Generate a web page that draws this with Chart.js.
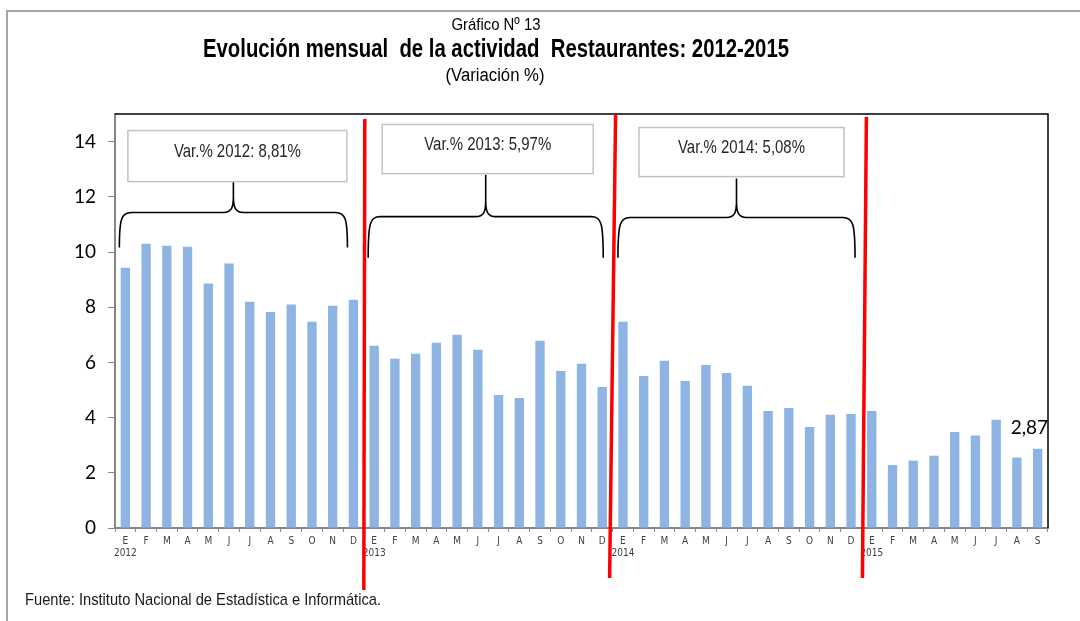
<!DOCTYPE html>
<html>
<head>
<meta charset="utf-8">
<script src="https://cdn.jsdelivr.net/npm/chart.js@4/dist/chart.umd.min.js"></script>
<style>
  html, body { margin: 0; padding: 0; background: #fff; }
  #wrap { width: 1080px; height: 621px; }
</style>
</head>
<body>
<div id="wrap"><canvas id="chart" width="1080" height="621"></canvas></div>
<script>
const monthLetters = ['E', 'F', 'M', 'A', 'M', 'J', 'J', 'A', 'S', 'O', 'N', 'D'];
const years = ['2012', '2013', '2014', '2015'];

const values2012 = [9.43, 10.30, 10.23, 10.19, 8.86, 9.58, 8.20, 7.83, 8.10, 7.47, 8.05, 8.27];
const values2013 = [6.60, 6.13, 6.31, 6.71, 7.00, 6.46, 4.82, 4.71, 6.78, 5.69, 5.95, 5.11];
const values2014 = [7.47, 5.51, 6.06, 5.33, 5.91, 5.62, 5.15, 4.24, 4.35, 3.66, 4.10, 4.13];
const values2015 = [4.24, 2.28, 2.44, 2.62, 3.48, 3.35, 3.92, 2.55, 2.87];

const yearNotes = ['Var.% 2012: 8,81%', 'Var.% 2013: 5,97%', 'Var.% 2014: 5,08%'];
const lastValueLabel = '2,87';

const yTicks = [0, 2, 4, 6, 8, 10, 12, 14];

const allYears = [values2012, values2013, values2014, values2015];
const labels = [];
const values = [];
allYears.forEach((vals, yi) => {
    vals.forEach((v, mi) => {
        labels.push(mi === 0 ? [monthLetters[mi], years[yi]] : monthLetters[mi]);
        values.push(v);
    });
});

const sans = "'Liberation Sans', Arial, sans-serif";

// brace + box look for each finished year (y in data units)
const braceStyle = [
    { dl: -6, dr: -6, bottom: 10.16, mid: 11.43, top: 12.74, boxW: 219, boxTop: 14.40, boxBottom: 12.55, dx: 4 },
    { dl: -6, dr: 1, bottom: 9.79, mid: 11.28, top: 12.80, boxW: 211, boxTop: 14.62, boxBottom: 12.84, dx: 2 },
    { dl: -5, dr: 4, bottom: 9.79, mid: 11.25, top: 12.66, boxW: 205, boxTop: 14.51, boxBottom: 12.73, dx: 5 }
];
// red separators: offsets of top/bottom ends from the boundary between years
const separatorStyle = [
    { top: 119, bottom: 590, dTop: 1, dBottom: 0 },
    { top: 114, bottom: 578, dTop: 3, dBottom: -3 },
    { top: 117, bottom: 578, dTop: 5, dBottom: 1 }
];

// draws text squeezed horizontally to a given width (narrow font look)
function fitText(ctx, text, x, y, font, width, align) {
    ctx.save();
    ctx.font = font;
    const w = ctx.measureText(text).width;
    const k = width / w;
    ctx.textAlign = 'left';
    ctx.textBaseline = 'middle';
    let left = x;
    if (align === 'center') left = x - width / 2;
    ctx.translate(left, y);
    ctx.scale(k, 1);
    ctx.fillText(text, 0, 0);
    ctx.restore();
}

const decorations = {
    id: 'decorations',
    beforeDraw(chart) {
        const ctx = chart.ctx;
        ctx.save();
        ctx.fillStyle = '#fff';
        ctx.fillRect(0, 0, chart.width, chart.height);

        // outer frame
        ctx.strokeStyle = '#a6a6a6';
        ctx.lineWidth = 2;
        ctx.beginPath();
        ctx.moveTo(7, chart.height + 2);
        ctx.lineTo(7, 11);
        ctx.lineTo(chart.width + 2, 11);
        ctx.stroke();

        ctx.fillStyle = '#000';
        fitText(ctx, 'Gráfico Nº 13', 496, 25, '17px ' + sans, 89, 'center');
        fitText(ctx, 'Evolución mensual  de la actividad  Restaurantes: 2012-2015', 496, 50, 'bold 25px ' + sans, 586, 'center');
        fitText(ctx, '(Variación %)', 495, 76, '18px ' + sans, 99, 'center');

        ctx.fillStyle = '#1a1a1a';
        fitText(ctx, 'Fuente: Instituto Nacional de Estadística e Informática.', 25, 600, '17px ' + sans, 356, 'left');
        ctx.restore();
    },
    afterDraw(chart) {
        const ctx = chart.ctx;
        const area = chart.chartArea;
        const x = chart.scales.x;
        const y = chart.scales.y;
        ctx.save();

        // plot area frame (top and right)
        ctx.strokeStyle = '#000';
        ctx.lineWidth = 1.5;
        ctx.beginPath();
        ctx.moveTo(area.left, area.top);
        ctx.lineTo(area.right, area.top);
        ctx.lineTo(area.right, area.bottom);
        ctx.stroke();

        // braces and boxes
        let start = 0;
        braceStyle.forEach((s, i) => {
            const n = allYears[i].length;
            const L = x.getPixelForValue(start) + s.dl;
            const R = x.getPixelForValue(start + n - 1) + s.dr;
            const M = (L + R) / 2;
            const yb = y.getPixelForValue(s.bottom);
            const yh = y.getPixelForValue(s.mid);
            const yt = y.getPixelForValue(s.top);

            ctx.strokeStyle = '#000';
            ctx.lineWidth = 1.6;
            ctx.beginPath();
            ctx.moveTo(L, yb);
            ctx.bezierCurveTo(L, yh + 6, L + 2, yh, L + 12, yh);
            ctx.lineTo(M - 10, yh);
            ctx.bezierCurveTo(M - 2, yh, M, yh - 5, M, yh - 16);
            ctx.lineTo(M, yt);
            ctx.moveTo(M, yh - 16);
            ctx.bezierCurveTo(M, yh - 5, M + 2, yh, M + 10, yh);
            ctx.lineTo(R - 12, yh);
            ctx.bezierCurveTo(R - 2, yh, R, yh + 6, R, yb);
            ctx.stroke();

            const bx = M + s.dx - s.boxW / 2;
            const by = y.getPixelForValue(s.boxTop);
            const bh = y.getPixelForValue(s.boxBottom) - by;
            ctx.fillStyle = '#fff';
            ctx.fillRect(bx, by, s.boxW, bh);
            ctx.strokeStyle = '#c3c3c3';
            ctx.lineWidth = 1.5;
            ctx.strokeRect(bx, by, s.boxW, bh);
            ctx.fillStyle = '#262626';
            fitText(ctx, yearNotes[i], M + s.dx, by + bh * 0.42, '19px ' + sans, 127, 'center');

            start += n;
        });

        // red year separators
        start = 0;
        separatorStyle.forEach((s, i) => {
            start += allYears[i].length;
            const bx = (x.getPixelForValue(start - 1) + x.getPixelForValue(start)) / 2;
            ctx.strokeStyle = '#ff0000';
            ctx.lineWidth = 3.5;
            ctx.beginPath();
            ctx.moveTo(bx + s.dTop, s.top);
            ctx.lineTo(bx + s.dBottom, s.bottom);
            ctx.stroke();
        });

        // last value label
        const meta = chart.getDatasetMeta(0);
        const last = meta.data[meta.data.length - 1];
        ctx.fillStyle = '#000';
        ctx.font = '19px Lato, sans-serif';
        ctx.textAlign = 'right';
        ctx.textBaseline = 'middle';
        ctx.fillText(lastValueLabel, area.right, last.y - 21);
        ctx.restore();
    }
};

new Chart(document.getElementById('chart'), {
    type: 'bar',
    data: {
        labels: labels,
        datasets: [{
            data: values,
            backgroundColor: 'rgb(141,180,226)',
            borderWidth: 0,
            categoryPercentage: 1,
            barPercentage: 0.45
        }]
    },
    options: {
        responsive: false,
        animation: false,
        layout: {
            padding: { top: 114, right: 32, left: 0, bottom: 0 }
        },
        plugins: {
            legend: { display: false },
            tooltip: { enabled: false }
        },
        scales: {
            x: {
                offset: true,
                afterFit: (scale) => { scale.height = 93; },
                border: { color: '#868686', width: 2 },
                grid: {
                    offset: true,
                    drawOnChartArea: false,
                    tickLength: 4,
                    color: '#868686'
                },
                ticks: {
                    autoSkip: false,
                    maxRotation: 0,
                    padding: 3,
                    color: '#404040',
                    font: { family: "'DejaVu Sans Condensed', 'Liberation Sans', sans-serif", size: 10, lineHeight: 1.2 }
                }
            },
            y: {
                min: 0,
                max: 15,
                afterFit: (scale) => { scale.width = 115; },
                afterBuildTicks: (scale) => { scale.ticks = yTicks.map(v => ({ value: v })); },
                border: { color: '#868686', width: 2 },
                grid: {
                    drawOnChartArea: false,
                    tickLength: 7,
                    color: '#868686'
                },
                ticks: {
                    padding: 12,
                    color: '#000',
                    font: { family: 'Lato, sans-serif', size: 19 }
                }
            }
        }
    },
    plugins: [decorations]
});
</script>
</body>
</html>
